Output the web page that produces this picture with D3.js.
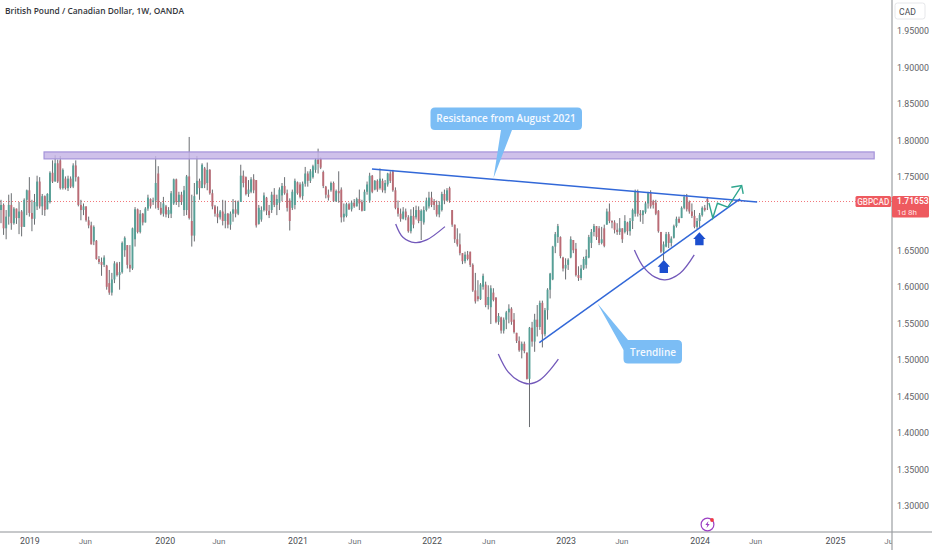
<!DOCTYPE html>
<html>
<head>
<meta charset="utf-8">
<script src="https://cdn.jsdelivr.net/npm/d3@7"></script>
<style>
  html, body { margin: 0; padding: 0; background: #fff; }
  svg { display: block; font-family: Roboto, sans-serif; }
</style>
</head>
<body>
<div id="chart"></div>
<script>
// weekly candles, one row is ten weeks
const opens = [
  1.705,1.712,1.680,1.696,1.712,1.687,1.707,1.694,1.703,1.682,
  1.719,1.732,1.701,1.693,1.710,1.744,1.710,1.724,1.706,1.716,
  1.756,1.744,1.769,1.773,1.735,1.748,1.735,1.748,1.737,1.766,
  1.750,1.712,1.705,1.710,1.691,1.684,1.662,1.663,1.638,1.634,
  1.630,1.629,1.605,1.592,1.610,1.632,1.616,1.620,1.650,1.657,
  1.630,1.625,1.665,1.706,1.675,1.700,1.688,1.707,1.720,1.716,
  1.718,1.755,1.708,1.700,1.710,1.699,1.700,1.714,1.747,1.716,
  1.726,1.705,1.705,1.751,1.690,1.670,1.727,1.745,1.735,1.762,
  1.742,1.760,1.728,1.710,1.700,1.695,1.703,1.690,1.700,1.685,
  1.700,1.706,1.700,1.716,1.752,1.750,1.727,1.730,1.747,1.746,
  1.686,1.692,1.705,1.722,1.704,1.705,1.726,1.712,1.715,1.725,
  1.738,1.728,1.718,1.708,1.712,1.743,1.740,1.724,1.741,1.755,
  1.745,1.750,1.760,1.774,1.775,1.757,1.737,1.726,1.732,1.742,
  1.717,1.731,1.733,1.695,1.697,1.713,1.706,1.715,1.710,1.720,
  1.716,1.704,1.730,1.718,1.752,1.733,1.745,1.735,1.745,1.732,
  1.740,1.755,1.758,1.732,1.708,1.700,1.693,1.703,1.695,1.676,
  1.697,1.695,1.705,1.690,1.688,1.705,1.710,1.722,1.717,1.712,
  1.699,1.705,1.727,1.718,1.735,1.705,1.685,1.665,1.658,1.646,
  1.635,1.644,1.648,1.630,1.595,1.587,1.583,1.600,1.603,1.575,
  1.572,1.592,1.585,1.552,1.558,1.540,1.555,1.565,1.570,1.555,
  1.537,1.526,1.513,1.522,1.510,1.474,1.544,1.525,1.555,1.545,
  1.578,1.535,1.568,1.596,1.610,1.655,1.668,1.668,1.640,1.625,
  1.630,1.640,1.664,1.652,1.616,1.612,1.625,1.630,1.640,1.660,
  1.675,1.683,1.680,1.660,1.680,1.685,1.703,1.690,1.688,1.678,
  1.675,1.680,1.675,1.688,1.676,1.690,1.700,1.731,1.700,1.698,
  1.702,1.714,1.728,1.717,1.715,1.704,1.675,1.648,1.655,1.672,
  1.660,1.667,1.683,1.693,1.694,1.708,1.723,1.716,1.703,1.697,
  1.682,1.690,1.698,1.708,1.720
];
const highs = [
  1.719,1.714,1.705,1.726,1.728,1.709,1.707,1.716,1.705,1.721,
  1.733,1.750,1.719,1.727,1.752,1.750,1.727,1.725,1.728,1.758,
  1.773,1.780,1.774,1.779,1.762,1.751,1.752,1.751,1.769,1.773,
  1.751,1.719,1.714,1.710,1.696,1.689,1.684,1.664,1.642,1.640,
  1.643,1.630,1.623,1.619,1.635,1.634,1.634,1.662,1.669,1.657,
  1.657,1.681,1.709,1.707,1.705,1.701,1.709,1.726,1.721,1.722,
  1.779,1.765,1.716,1.723,1.712,1.709,1.731,1.748,1.748,1.730,
  1.730,1.738,1.753,1.805,1.726,1.742,1.779,1.748,1.769,1.764,
  1.770,1.761,1.733,1.712,1.710,1.705,1.719,1.718,1.701,1.703,
  1.720,1.718,1.718,1.767,1.759,1.751,1.746,1.750,1.754,1.746,
  1.712,1.710,1.729,1.723,1.712,1.730,1.735,1.726,1.736,1.742,
  1.750,1.733,1.721,1.733,1.748,1.744,1.743,1.744,1.764,1.758,
  1.761,1.767,1.776,1.789,1.777,1.759,1.738,1.733,1.744,1.744,
  1.733,1.758,1.736,1.714,1.715,1.715,1.718,1.720,1.722,1.733,
  1.719,1.733,1.744,1.756,1.753,1.746,1.747,1.762,1.748,1.746,
  1.756,1.758,1.760,1.736,1.718,1.707,1.709,1.707,1.698,1.706,
  1.709,1.711,1.710,1.706,1.710,1.722,1.730,1.730,1.720,1.718,
  1.717,1.730,1.733,1.735,1.737,1.705,1.685,1.680,1.673,1.646,
  1.648,1.649,1.648,1.632,1.619,1.609,1.605,1.618,1.607,1.602,
  1.602,1.598,1.586,1.564,1.559,1.558,1.567,1.576,1.572,1.564,
  1.537,1.532,1.525,1.525,1.510,1.545,1.552,1.563,1.575,1.581,
  1.581,1.571,1.598,1.619,1.656,1.675,1.686,1.669,1.641,1.639,
  1.639,1.669,1.664,1.660,1.628,1.630,1.641,1.651,1.671,1.679,
  1.686,1.683,1.683,1.682,1.685,1.707,1.714,1.691,1.691,1.687,
  1.694,1.680,1.698,1.689,1.694,1.707,1.733,1.733,1.705,1.705,
  1.716,1.730,1.732,1.719,1.719,1.705,1.675,1.662,1.675,1.675,
  1.669,1.685,1.696,1.696,1.710,1.726,1.727,1.718,1.714,1.705,
  1.694,1.701,1.710,1.712,1.723
];
const lows = [
  1.687,1.671,1.665,1.685,1.678,1.685,1.686,1.672,1.669,1.682,
  1.698,1.696,1.676,1.685,1.705,1.707,1.698,1.697,1.706,1.714,
  1.742,1.744,1.742,1.733,1.733,1.733,1.731,1.735,1.735,1.744,
  1.710,1.691,1.698,1.689,1.680,1.658,1.657,1.637,1.631,1.615,
  1.627,1.596,1.589,1.588,1.605,1.614,1.596,1.618,1.641,1.625,
  1.620,1.623,1.655,1.673,1.673,1.684,1.688,1.704,1.707,1.712,
  1.707,1.705,1.698,1.696,1.695,1.694,1.694,1.712,1.712,1.709,
  1.712,1.697,1.698,1.692,1.655,1.662,1.726,1.719,1.735,1.735,
  1.732,1.726,1.706,1.696,1.687,1.692,1.684,1.680,1.680,1.678,
  1.689,1.695,1.698,1.716,1.736,1.725,1.723,1.728,1.728,1.681,
  1.685,1.689,1.703,1.698,1.694,1.701,1.709,1.698,1.705,1.717,
  1.726,1.703,1.677,1.705,1.706,1.726,1.721,1.719,1.737,1.737,
  1.742,1.748,1.756,1.755,1.761,1.735,1.721,1.718,1.730,1.716,
  1.716,1.715,1.688,1.689,1.695,1.705,1.703,1.708,1.710,1.705,
  1.703,1.704,1.726,1.715,1.728,1.732,1.730,1.733,1.729,1.728,
  1.737,1.742,1.730,1.706,1.696,1.689,1.692,1.691,1.674,1.673,
  1.680,1.692,1.687,1.664,1.685,1.703,1.707,1.709,1.705,1.696,
  1.695,1.703,1.713,1.717,1.715,1.682,1.660,1.655,1.643,1.631,
  1.632,1.636,1.627,1.593,1.577,1.580,1.582,1.596,1.572,1.569,
  1.549,1.580,1.550,1.548,1.536,1.536,1.542,1.550,1.548,1.536,
  1.523,1.511,1.502,1.509,1.473,1.408,1.518,1.511,1.532,1.541,
  1.517,1.532,1.555,1.584,1.609,1.646,1.660,1.639,1.621,1.610,
  1.623,1.639,1.646,1.614,1.608,1.609,1.623,1.625,1.639,1.653,
  1.669,1.664,1.657,1.658,1.654,1.685,1.687,1.680,1.673,1.671,
  1.671,1.660,1.673,1.671,1.670,1.679,1.696,1.696,1.689,1.686,
  1.700,1.707,1.707,1.707,1.698,1.674,1.646,1.636,1.654,1.653,
  1.655,1.666,1.681,1.687,1.694,1.706,1.703,1.700,1.694,1.680,
  1.679,1.681,1.696,1.703,1.705
];
const closes = [
  1.712,1.680,1.696,1.712,1.687,1.707,1.694,1.703,1.682,1.719,
  1.732,1.701,1.693,1.716,1.744,1.710,1.724,1.705,1.727,1.756,
  1.744,1.769,1.744,1.735,1.760,1.735,1.748,1.737,1.766,1.750,
  1.712,1.705,1.710,1.691,1.684,1.658,1.682,1.638,1.634,1.630,
  1.640,1.600,1.592,1.610,1.632,1.616,1.620,1.660,1.667,1.630,
  1.625,1.680,1.706,1.675,1.700,1.688,1.707,1.722,1.710,1.718,
  1.742,1.708,1.700,1.714,1.699,1.705,1.728,1.747,1.716,1.726,
  1.716,1.732,1.751,1.694,1.670,1.724,1.745,1.735,1.767,1.740,
  1.760,1.728,1.710,1.700,1.695,1.703,1.690,1.700,1.685,1.700,
  1.706,1.700,1.716,1.752,1.742,1.727,1.733,1.747,1.732,1.684,
  1.708,1.705,1.725,1.704,1.698,1.726,1.712,1.720,1.733,1.738,
  1.728,1.708,1.690,1.730,1.745,1.728,1.723,1.741,1.755,1.745,
  1.758,1.765,1.774,1.768,1.763,1.738,1.726,1.722,1.742,1.717,
  1.731,1.728,1.695,1.700,1.713,1.706,1.715,1.710,1.720,1.714,
  1.704,1.730,1.740,1.752,1.730,1.745,1.733,1.748,1.732,1.742,
  1.755,1.745,1.732,1.708,1.700,1.693,1.703,1.695,1.676,1.697,
  1.685,1.705,1.690,1.704,1.705,1.718,1.722,1.712,1.712,1.699,
  1.712,1.727,1.718,1.732,1.718,1.685,1.665,1.658,1.646,1.635,
  1.644,1.638,1.630,1.595,1.580,1.583,1.603,1.615,1.575,1.586,
  1.598,1.582,1.552,1.560,1.540,1.555,1.565,1.570,1.552,1.538,
  1.526,1.513,1.522,1.512,1.474,1.544,1.525,1.555,1.545,1.578,
  1.535,1.568,1.596,1.618,1.655,1.672,1.683,1.642,1.625,1.630,
  1.637,1.665,1.650,1.616,1.612,1.625,1.638,1.642,1.668,1.675,
  1.683,1.668,1.660,1.665,1.656,1.703,1.690,1.688,1.678,1.675,
  1.680,1.665,1.690,1.676,1.690,1.705,1.731,1.700,1.698,1.704,
  1.714,1.728,1.710,1.712,1.700,1.676,1.648,1.658,1.672,1.660,
  1.666,1.683,1.693,1.688,1.708,1.723,1.706,1.703,1.697,1.682,
  1.690,1.698,1.708,1.705,1.71653
];

// 1.70 sits behind the last price tag in the reference, so it has no label
const priceTicks = [1.95,1.90,1.85,1.80,1.75,1.65,1.60,1.55,1.50,1.45,1.40,1.35,1.30];
const yearTicks = [[11,"2019"],[63.5,"2020"],[115,"2021"],[167,"2022"],[219,"2023"],[271,"2024"],[323.5,"2025"]];
const monthTicks = [[32.5,"Jun"],[84.3,"Jun"],[137,"Jun"],[189,"Jun"],[240.6,"Jun"],[292.5,"Jun"],[345,"Jun"]];

const lastPrice = 1.71653;

// drawings, in [week, price]
const zone = [[16.7,1.7845],[338.7,1.775]];
const resistanceLine = [[143.9,1.7612],[293.3,1.7161]];
const trendLine = [[208.8,1.5236],[286.7,1.7202]];
const cupBig = [[192.9,1.5081],[196.7,1.4835],[200.9,1.4712],[204.8,1.4671],[209.1,1.4726],[213,1.4863],[216.2,1.5009]];
const cupLeft = [[153.1,1.686],[155.9,1.6678],[160.6,1.6604],[165.1,1.6641],[172.2,1.6823]];
const cupRight = [[245.7,1.6504],[249.1,1.6276],[253.7,1.6131],[257.6,1.6094],[263.4,1.6185],[268.9,1.6436]];
const projection = [[274.6,1.7147],[276.1,1.6942],[277.9,1.7143],[281.9,1.7088],[287.3,1.7384]];
const projectionHead = [[283.3,1.7362],[287.3,1.7384],[287.9,1.727]];
const upArrows = [[257.1,1.6367],[270.9,1.6746]];

const width = 932, height = 550;
const axisX = 892, axisY = 532;
const teal = "#56a097", red = "#bb6b75", wick = "#6a6d71";
const blue = "#3268d8", purple = "#7359ba", callout = "#7bbdf5";

const candles = closes.map((c, i) => ({ i, o: opens[i], h: highs[i], l: lows[i], c }));

const x = d3.scaleLinear().domain([0, 274]).range([1, 1 + 274 * 2.578]);
const y = d3.scaleLinear().domain([1.30, 1.95]).range([506, 31]);

const svg = d3.select("#chart").append("svg")
  .attr("width", width)
  .attr("height", height);

svg.append("defs").append("clipPath").attr("id", "plot")
  .append("rect").attr("width", axisX).attr("height", height);

// price line under the candles
const lastY = y(lastPrice);
svg.append("line")
  .attr("x1", 0).attr("x2", axisX)
  .attr("y1", Math.floor(lastY) + 0.5).attr("y2", Math.floor(lastY) + 0.5)
  .attr("stroke", "#f2787c")
  .attr("stroke-dasharray", "1 2");

// the reference is a soft screenshot, so the marks get a touch of blur
const bars = svg.append("g").style("filter", "blur(0.35px)");

bars.selectAll(".wick")
  .data(candles)
  .join("line")
  .attr("class", "wick")
  .attr("x1", d => x(d.i)).attr("x2", d => x(d.i))
  .attr("y1", d => y(d.h)).attr("y2", d => y(d.l))
  .attr("stroke", wick)
  .attr("stroke-width", 1);

bars.selectAll(".body")
  .data(candles)
  .join("rect")
  .attr("class", "body")
  .attr("x", d => x(d.i) - 0.95)
  .attr("width", 1.9)
  .attr("y", d => y(Math.max(d.o, d.c)))
  .attr("height", d => Math.max(0.8, Math.abs(y(d.o) - y(d.c))))
  .attr("fill", d => d.c >= d.o ? teal : red);

// resistance zone
svg.append("rect")
  .attr("x", x(zone[0][0]))
  .attr("y", y(zone[0][1]))
  .attr("width", x(zone[1][0]) - x(zone[0][0]))
  .attr("height", y(zone[1][1]) - y(zone[0][1]))
  .attr("fill", "#c7b6e6")
  .attr("fill-opacity", 0.85)
  .attr("stroke", "#a493da")
  .attr("stroke-width", 1.2);

const line = d3.line().x(d => x(d[0])).y(d => y(d[1]));
const curve = d3.line().x(d => x(d[0])).y(d => y(d[1])).curve(d3.curveCatmullRom);

[resistanceLine, trendLine].forEach(d => {
  svg.append("path").attr("d", line(d)).attr("fill", "none")
    .attr("stroke", blue).attr("stroke-width", 1.5);
});

[cupBig, cupLeft, cupRight].forEach(d => {
  svg.append("path").attr("d", curve(d)).attr("fill", "none")
    .attr("stroke", purple).attr("stroke-width", 1.3);
});

[projection, projectionHead].forEach(d => {
  svg.append("path").attr("d", line(d)).attr("fill", "none")
    .attr("stroke", "#2fa68e").attr("stroke-width", 1.4);
});

// blue up arrows, tip sits on the [week, price] point
svg.selectAll(".uparrow")
  .data(upArrows)
  .join("path")
  .attr("class", "uparrow")
  .attr("transform", d => `translate(${x(d[0])},${y(d[1])})`)
  .attr("d", "M0,0L6.2,6.8L4.2,6.8L4.2,13L-4.2,13L-4.2,6.8L-6.2,6.8Z")
  .attr("fill", "#1c4fcf");

// callouts
function drawCallout(path, tx, ty, label) {
  svg.append("path").attr("d", path).attr("fill", callout);
  svg.append("text")
    .attr("x", tx).attr("y", ty)
    .attr("text-anchor", "middle")
    .attr("fill", "#f4f9ff")
    .style("font-family", "'Open Sans', sans-serif")
    .style("font-size", "10px")
    .style("font-weight", 600)
    .text(label);
}

drawCallout(
  "M435,107.5H577.5Q582,107.5 582,112V125.5Q582,130 577.5,130H512L493.5,178L501,130H435Q430.5,130 430.5,125.5V112Q430.5,107.5 435,107.5Z",
  506, 122, "Resistance from August 2021");
drawCallout(
  "M628,340H677.5Q682,340 682,344.5V359Q682,363.5 677.5,363.5H628Q623.5,363.5 623.5,359V350L597.5,303.5L628,340Z",
  653, 355.5, "Trendline");

// axes
const yAxis = d3.axisRight(y)
  .tickValues(priceTicks)
  .tickSize(0)
  .tickPadding(5)
  .tickFormat(d3.format(".5f"));

const yG = svg.append("g")
  .attr("transform", `translate(${axisX},0)`)
  .call(yAxis);
yG.select(".domain").remove();
yG.selectAll("text").attr("fill", "#5f6368").style("font-size", "8.8px").style("font-family", "Roboto, sans-serif");

const xAxisYears = d3.axisBottom(x)
  .tickValues(yearTicks.map(d => d[0]))
  .tickSize(0)
  .tickPadding(6)
  .tickFormat((d, i) => yearTicks[i][1]);

const xAxisMonths = d3.axisBottom(x)
  .tickValues(monthTicks.map(d => d[0]))
  .tickSize(0)
  .tickPadding(6)
  .tickFormat((d, i) => monthTicks[i][1]);

const xG = svg.append("g").attr("clip-path", "url(#plot)");

const yearG = xG.append("g").attr("transform", `translate(0,${axisY})`).call(xAxisYears);
yearG.select(".domain").remove();
yearG.selectAll("text").attr("fill", "#4a4d52").style("font-size", "8.8px").style("font-family", "Roboto, sans-serif");

const monthG = xG.append("g").attr("transform", `translate(0,${axisY})`).call(xAxisMonths);
monthG.select(".domain").remove();
monthG.selectAll("text").attr("fill", "#6b6f75").style("font-size", "8px").style("font-family", "Roboto, sans-serif");

svg.append("line").attr("x1", 0).attr("x2", width).attr("y1", axisY).attr("y2", axisY)
  .attr("stroke", "#8f9296").attr("stroke-width", 1);
svg.append("line").attr("x1", axisX).attr("x2", axisX).attr("y1", 0).attr("y2", height)
  .attr("stroke", "#9b9ea2").attr("stroke-width", 1.2);

// title
svg.append("text")
  .attr("x", 5).attr("y", 13.5)
  .attr("fill", "#33363b")
  .style("font-family", "'Open Sans', sans-serif")
  .style("font-size", "8.4px")
  .style("font-weight", 600)
  .text("British Pound / Canadian Dollar, 1W, OANDA");

// currency button
svg.append("rect")
  .attr("x", 895).attr("y", 3).attr("width", 30).attr("height", 16).attr("rx", 2.5)
  .attr("fill", "#fff").attr("stroke", "#e6e7ea");
svg.append("text")
  .attr("x", 907.5).attr("y", 14.5).attr("text-anchor", "middle")
  .attr("fill", "#4a4d52").style("font-size", "8.6px")
  .text("CAD");

// last price tags
svg.append("rect")
  .attr("x", 855.5).attr("y", lastY - 5.5).attr("width", 35.5).attr("height", 11).attr("rx", 1.5)
  .attr("fill", "#ee5a5f");
svg.append("text")
  .attr("x", 873.2).attr("y", lastY + 3).attr("text-anchor", "middle")
  .attr("fill", "#ffe9e9").style("font-size", "8.2px").style("font-weight", 500)
  .text("GBPCAD");
svg.append("rect")
  .attr("x", 892).attr("y", lastY - 5.5).attr("width", 37).attr("height", 21.5).attr("rx", 1.5)
  .attr("fill", "#ee5a5f");
svg.append("text")
  .attr("x", 897).attr("y", lastY + 2.5).attr("fill", "#fff")
  .style("font-size", "8.6px").style("font-weight", 500)
  .text("1.71653");
svg.append("text")
  .attr("x", 897).attr("y", lastY + 13).attr("fill", "#ffe3e3")
  .style("font-size", "8px")
  .text("1d 8h");

// lightning badge on the time axis
const badge = svg.append("g").attr("transform", "translate(707.5,524.5)");
badge.append("circle").attr("r", 6.4).attr("fill", "#fff").attr("stroke", "#9c3fc4").attr("stroke-width", 1.2);
badge.append("path").attr("d", "M1,-3.6L-2.2,0.6H-0.2L-1,3.6L2.2,-0.6H0.2Z").attr("fill", "#9c3fc4");
badge.append("circle").attr("cx", 4.5).attr("cy", -4.5).attr("r", 1.9).attr("fill", "#ef3b45");
</script>
</body>
</html>
